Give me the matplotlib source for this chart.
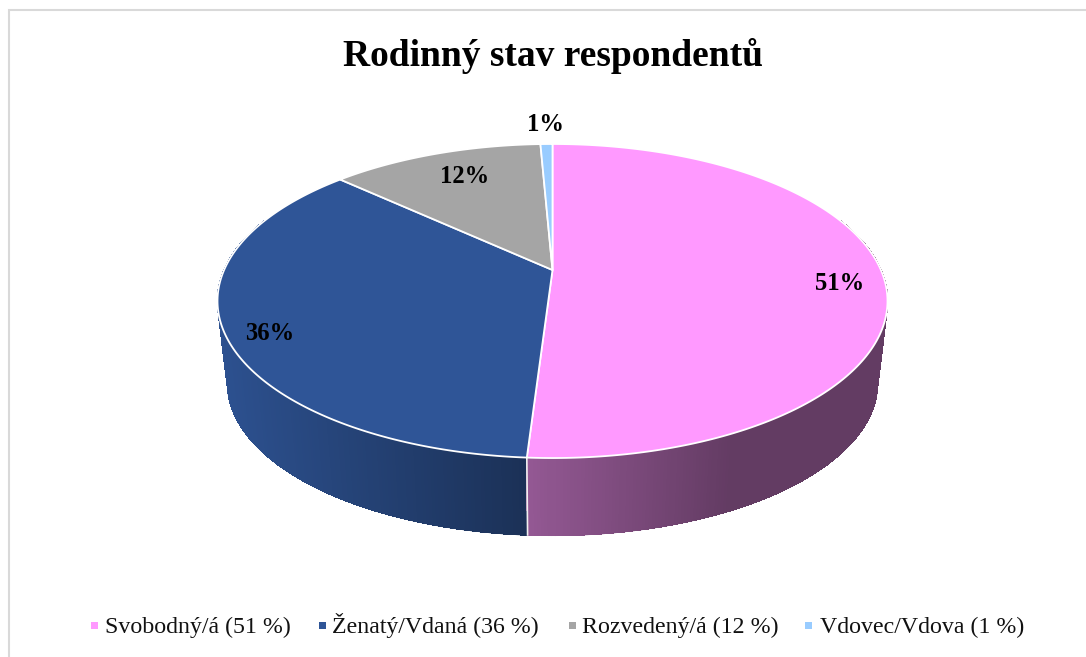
import numpy as np
import matplotlib
matplotlib.use("Agg")
import matplotlib.pyplot as plt
from matplotlib.patches import Polygon, Rectangle
from matplotlib.collections import PolyCollection, LineCollection
from matplotlib.colors import to_rgb

title = "Rodinný stav respondentů"
categories = ["Svobodný/á", "Ženatý/Vdaná", "Rozvedený/á", "Vdovec/Vdova"]
shares = [51.0, 35.9, 12.4, 0.7]
colors = ["#FF99FF", "#2F5597", "#A5A5A5", "#99CCFF"]

W, H = 1086, 657
plt.rcParams["font.family"] = ["Liberation Serif", "DejaVu Serif"]
fig = plt.figure(figsize=(W / 100, H / 100), dpi=100)
ax = fig.add_axes([0, 0, 1, 1])
ax.set_xlim(0, W)
ax.set_ylim(H, 0)
ax.axis("off")

# perspective projection of the unit disc
CX, TOP_Y, BOT_Y = 552.5, 270.0, 353.0
K, A, B, BOT_SCALE = 0.1975, 150.9, 328.4, 0.97


def project(theta, radius=1.0, bottom=False):
    u = radius * np.sin(theta)
    v = -radius * np.cos(theta)
    d = 1 - K * v
    s = BOT_SCALE if bottom else 1.0
    y0 = BOT_Y if bottom else TOP_Y
    return CX + s * B * u / d, y0 + s * A * v / d


def wall_factor(i, x):
    if i == 0:
        return np.interp(x, [527, 730], [0.58, 0.39])
    if i == 1:
        return np.interp(x, [219, 527], [0.95, 0.575])
    return 0.6


edges = np.radians(np.concatenate([[0], np.cumsum(shares)]) / np.sum(shares) * 360)

# side wall strips, back to front
polys, face, rim_segments = [], [], []
for i, c in enumerate(colors):
    base = np.array(to_rgb(c))
    n = max(2, int((edges[i + 1] - edges[i]) / np.radians(0.5)))
    t = np.linspace(edges[i], edges[i + 1], n + 1)
    for a, b in zip(t[:-1], t[1:]):
        xa, ya = project(a)
        xb, yb = project(b)
        xc, yc = project(b, bottom=True)
        xd, yd = project(a, bottom=True)
        polys.append(([(xa, ya), (xb, yb), (xc, yc), (xd, yd)], -np.cos((a + b) / 2)))
        face.append(base * wall_factor(i, (xa + xb) / 2))
        rim_segments.append([(xd, yd), (xc, yc)])
order = [j for j in np.argsort([p[1] for p in polys]) if polys[j][1] > -0.35]
ax.add_collection(PolyCollection([polys[j][0] for j in order],
                                 facecolors=[face[j] for j in order],
                                 edgecolors=[face[j] for j in order],
                                 linewidths=0.5, antialiased=False, zorder=2))
# smooth outer edge of the wall
ax.add_collection(LineCollection([rim_segments[j] for j in order],
                                 colors=[face[j] for j in order],
                                 linewidths=0.9, zorder=2.1))

# white seam on the front wall
for e in edges:
    if -np.cos(e) > 0:
        x0, y0 = project(e)
        x1, y1 = project(e, bottom=True)
        ax.plot([x0, x1], [y0, y1], color="#F0F0F0", lw=1.2, zorder=3)

# top face
for i, c in enumerate(colors):
    t = np.linspace(edges[i], edges[i + 1], 300)
    rim = np.column_stack(project(t))
    pts = np.vstack([[CX, TOP_Y], rim])
    ax.add_patch(Polygon(pts, closed=True, facecolor=c, edgecolor="white",
                         lw=1.3, joinstyle="round", zorder=4))

# percentage labels
nudges = [(0, 9), (1, 11), (16, 10), (-2, -33)]
for i, s in enumerate(shares):
    mid = (edges[i] + edges[i + 1]) / 2
    x, y = project(mid, 0.87)
    ax.text(x + nudges[i][0], y + nudges[i][1], f"{s:.0f}%", fontsize=17.7,
            fontweight="bold", ha="center", va="center", color="black", zorder=5)

ax.text(553, 66, title, fontsize=27, fontweight="bold", ha="center",
        va="baseline", color="black")

# legend
marker_x = [94, 322, 572, 808]
text_x = [105, 332, 582, 820]
for i, cat in enumerate(categories):
    ax.add_patch(Rectangle((marker_x[i] - 3.5, 622), 7, 7, facecolor=colors[i], edgecolor="none"))
    ax.text(text_x[i], 633, f"{cat} ({shares[i]:.0f} %)", fontsize=17.2,
            ha="left", va="baseline", color="#111111")

# chart frame
ax.plot([8.5, 8.5, W], [H, 10, 10], color="#D9D9D9", lw=1.5, solid_joinstyle="miter")

fig.savefig("out.png", dpi=100)
